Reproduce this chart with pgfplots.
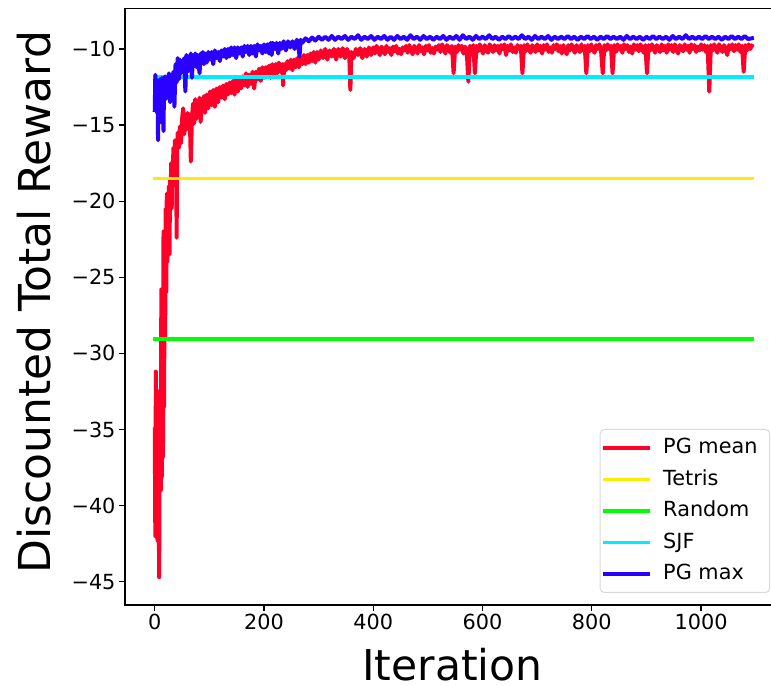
\documentclass[border=0pt]{standalone}
\usepackage{fontspec}
\setmainfont{DejaVu Sans}
\usepackage{pgfplots}
\pgfplotsset{compat=1.18}
\definecolor{cmean}{rgb}{1,0,0.16}
\definecolor{ctetris}{rgb}{1,0.919,0}
\definecolor{crandom}{rgb}{0,1,0}
\definecolor{csjf}{rgb}{0,0.924,1}
\definecolor{cmax}{rgb}{0.163,0,1}
\begin{document}
\begin{tikzpicture}
\begin{axis}[name=ax,
  scale only axis, width=655pt, height=596.7pt,
  xmin=-54.5, xmax=1144.5, ymin=-46.53, ymax=-7.33,
  axis line style={line width=1.2pt, black},
  tick style={line width=1.2pt, black},
  tick align=outside, major tick length=6pt, tick pos=left,
  xtick={0,200,400,600,800,1000},
  xticklabels={0,200,400,600,800,1000},
  ytick={-45,-40,-35,-30,-25,-20,-15,-10},
  yticklabels={−45,−40,−35,−30,−25,−20,−15,−10},
  ticklabel style={font=\fontsize{20.8}{25}\selectfont},
  xlabel={Iteration},
  ylabel={Discounted Total Reward},
  xlabel style={font=\fontsize{42.5}{50}\selectfont, at={(axis description cs:0.5,-0.1265)}, anchor=base},
  ylabel style={font=\fontsize{44}{50}\selectfont, at={(axis description cs:-0.1390,0.507)}, anchor=center},
  legend cell align=left,
  legend image code/.code={\path[draw=none,fill=none] (0pt,0pt) -- (57pt,0pt);\draw[#1, line width=3.4pt, line cap=rect] (1.7pt,0pt) -- (45.3pt,0pt);},
  legend style={at={(1,0)}, anchor=south east, xshift=-10pt, yshift=12pt,
    draw=black!15, line width=1pt, rounded corners=4pt, fill=white,
    inner xsep=3pt, inner ysep=2.75pt,
    font=\fontsize{20.8}{25}\selectfont,
    nodes={inner xsep=3pt, inner ysep=5.5pt, text height=16pt, text depth=4.5pt},
    row sep=0pt, column sep=0pt},
  every axis plot/.append style={line width=3.6pt, line join=round, line cap=rect},
]
\addplot[cmean, line width=4pt] coordinates {
(0,-35.0)(1,-42.0)(2,-31.2)(3,-40.5)(4,-33.0)(5,-42.3)(6,-36.5)(7,-38.0)(8,-44.7)(9,-36.0)
(10,-32.4)(11,-39.0)(12,-25.8)(13,-38.1)(14,-30.0)(15,-36.8)(16,-22.0)(17,-33.5)(18,-24.5)(19,-29.0)
(20,-20.5)(21,-26.0)(22,-19.5)(23,-24.0)(24,-20.5)(25,-21.5)(26,-19.0)(27,-23.5)(28,-18.5)(29,-20.0)
(30,-17.5)(31,-20.5)(32,-17.8)(33,-19.0)(34,-16.5)(35,-18.2)(36,-17.0)(37,-16.0)(38,-17.8)(39,-16.2)
(40,-22.4)(41,-16.8)(42,-15.5)(44,-16.5)(46,-15.1)(48,-16.2)(50,-14.6)(52,-13.9)(54,-15.6)(56,-14.4)
(58,-15.3)(60,-14.2)(62,-15.0)(64,-14.3)(66,-17.4)(68,-14.6)(70,-13.6)(72,-14.9)(74,-13.3)(76,-14.6)
(78,-13.5)(80,-14.3)(82,-13.2)(84,-14.8)(86,-13.4)(88,-14.0)(90,-13.1)(92,-14.2)(95,-13.0)(98,-13.9)
(101,-12.8)(104,-13.7)(107,-12.7)(110,-13.8)(113,-12.6)(116,-13.5)(119,-12.5)(122,-13.2)(125,-12.4)(128,-13.3)
(131,-12.3)(134,-13.0)(137,-12.2)(140,-12.9)(143,-12.1)(146,-13.0)(149,-12.0)(152,-12.8)(155,-11.9)(158,-12.6)
(161,-11.8)(164,-12.4)(167,-11.6)(170,-12.5)(173,-11.7)(176,-12.3)(179,-11.5)(182,-12.6)(185,-11.5)(188,-12.0)
(191,-11.3)(194,-12.1)(197,-11.2)(200,-11.9)(203,-11.2)(206,-11.8)(209,-11.1)(212,-11.9)(215,-11.0)(218,-11.7)
(221,-11.0)(224,-11.6)(227,-10.9)(230,-11.5)(233,-11.0)(235,-12.4)(237,-11.0)(240,-11.4)(243,-10.8)(246,-11.3)
(249,-10.7)(252,-11.4)(255,-10.7)(258,-11.2)(261,-10.6)(264,-11.2)(267,-10.6)(270,-11.0)(273,-10.4)(276,-11.0)
(279,-10.4)(282,-10.9)(285,-10.3)(288,-10.8)(291,-10.2)(294,-10.9)(297,-10.2)(300,-10.7)(304,-10.1)(308,-10.6)
(312,-10.0)(316,-10.7)(320,-10.1)(324,-10.5)(328,-10.0)(332,-10.7)(336,-10.0)(340,-10.5)(344,-9.95)(348,-10.6)
(352,-10.0)(356,-10.4)(358,-12.7)(360,-10.2)(364,-10.6)(368,-10.0)(372,-10.4)(376,-9.95)(380,-10.6)(384,-10.0)
(388,-10.5)(392,-9.9)(396,-10.4)
(400,-9.90)(403,-10.30)(406,-9.80)(409,-10.10)(412,-10.40)(415,-9.85)(418,-10.05)(421,-10.35)(424,-9.80)(427,-10.20)
(430,-9.95)(433,-10.40)(436,-9.85)(439,-10.15)(442,-9.80)(445,-10.30)(448,-10.00)(451,-10.35)(454,-9.90)(457,-10.10)
(460,-9.80)(463,-10.25)(466,-9.75)(469,-10.05)(472,-10.35)(475,-9.80)(478,-10.00)(481,-10.30)(484,-9.75)(487,-10.15)
(490,-9.90)(493,-10.35)(496,-9.80)(499,-10.10)(502,-9.75)(505,-10.25)(508,-9.95)(511,-10.30)(514,-9.85)(517,-10.05)
(520,-9.75)(523,-10.20)(526,-9.70)(529,-10.00)(532,-10.30)(535,-9.75)(538,-9.95)(541,-10.25)(544,-9.80)(547,-11.60)
(550,-9.85)(553,-10.20)(556,-9.75)(559,-10.05)(562,-9.80)(565,-10.30)(568,-9.85)(571,-10.10)(574,-12.15)(577,-9.80)
(580,-10.20)(583,-9.75)(586,-11.60)(589,-9.80)(592,-10.15)(595,-9.70)(598,-10.05)(601,-10.30)(604,-9.75)(607,-10.00)
(610,-10.25)(613,-9.70)(616,-9.95)(619,-10.20)(622,-9.75)(625,-10.10)(628,-9.80)(631,-10.30)(634,-9.75)(637,-10.00)
(640,-9.70)(643,-10.40)(646,-9.80)(649,-10.10)(652,-9.70)(655,-10.20)(658,-9.90)(661,-10.25)(664,-9.75)(667,-10.00)
(670,-9.80)(673,-11.60)(676,-9.75)(679,-10.15)(682,-9.70)(685,-10.00)(688,-10.25)(691,-9.75)(694,-9.95)(697,-10.20)
(700,-9.70)(703,-10.10)(706,-9.80)(709,-10.30)(712,-9.75)(715,-10.05)(718,-9.70)(721,-10.20)(724,-9.90)(727,-10.25)
(730,-9.75)(733,-10.00)(736,-9.70)(739,-10.15)(742,-9.80)(745,-10.30)(748,-9.75)(751,-10.05)(754,-10.35)(757,-9.75)
(760,-10.10)(763,-9.70)(766,-10.00)(769,-10.25)(772,-9.75)(775,-9.95)(778,-10.20)(781,-9.70)(784,-10.10)(787,-9.80)
(790,-11.60)(793,-9.75)(796,-10.15)(799,-9.70)(802,-10.05)(805,-10.25)(808,-9.75)(811,-10.00)(814,-9.70)(817,-10.15)
(820,-11.60)(823,-9.75)(826,-10.10)(829,-9.70)(832,-10.00)(835,-9.80)(838,-11.60)(841,-9.75)(844,-10.20)(847,-9.70)
(850,-10.05)(853,-9.80)(856,-10.25)(859,-9.70)(862,-10.00)(865,-9.75)(868,-10.20)(871,-9.85)(874,-10.30)(877,-9.70)
(880,-10.05)(883,-9.75)(886,-10.15)(889,-9.70)(892,-9.95)(895,-10.25)(898,-9.75)(901,-11.60)(904,-9.75)(907,-10.10)
(910,-9.70)(913,-10.00)(916,-10.25)(919,-9.75)(922,-9.95)(925,-10.20)(928,-9.70)(931,-10.10)(934,-9.80)(937,-10.25)
(940,-9.70)(943,-10.05)(946,-9.75)(949,-10.20)(952,-9.70)(955,-10.00)(958,-10.30)(961,-9.75)(964,-9.95)(967,-10.15)
(970,-9.70)(973,-10.05)(976,-9.80)(979,-10.25)(982,-9.70)(985,-10.00)(988,-9.75)(991,-10.20)(994,-9.85)(997,-10.10)
(1000,-9.70)(1003,-10.05)(1006,-9.75)(1009,-10.20)(1012,-9.80)(1015,-12.80)(1018,-9.75)(1021,-10.10)(1024,-9.70)(1027,-10.00)
(1030,-10.25)(1033,-9.70)(1036,-9.95)(1039,-10.20)(1042,-9.75)(1045,-10.05)(1048,-10.40)(1051,-9.75)(1054,-10.00)(1057,-9.70)
(1060,-10.15)(1063,-9.75)(1066,-10.05)(1069,-9.70)(1072,-10.20)(1075,-9.80)(1078,-11.50)(1081,-9.75)(1084,-10.10)(1087,-9.70)
(1090,-10.00)(1093,-9.80)
};
\addlegendentry{PG mean\hspace*{6pt}}
\addplot[ctetris] coordinates {(0,-18.51)(1093,-18.51)};
\addlegendentry{Tetris}
\addplot[crandom] coordinates {(0,-29.07)(1093,-29.07)};
\addlegendentry{Random}
\addplot[csjf] coordinates {(0,-11.84)(1093,-11.84)};
\addlegendentry{SJF}
\addplot[cmax, line width=4pt] coordinates {
(0,-14.0)(1,-11.7)(2,-13.5)(3,-12.0)(4,-14.2)(5,-12.2)(6,-16.0)(7,-12.5)(8,-13.8)(9,-12.0)
(10,-14.0)(11,-12.3)(12,-13.0)(13,-11.9)(14,-14.9)(15,-12.4)(16,-15.4)(17,-12.2)(18,-13.0)(19,-11.8)
(20,-13.3)(22,-11.9)(24,-12.8)(26,-11.6)(28,-13.5)(30,-11.7)(32,-12.6)(34,-11.5)(36,-13.8)(38,-11.0)
(40,-12.2)(42,-10.6)(44,-12.0)(46,-10.7)(48,-11.6)(50,-10.8)(52,-11.3)(54,-10.6)(56,-12.8)(58,-10.4)
(60,-11.5)(62,-10.5)(64,-11.2)(66,-10.3)(68,-11.9)(70,-10.5)(72,-11.0)(74,-10.3)(76,-11.2)(78,-10.4)
(80,-10.9)(82,-11.6)(84,-10.3)(86,-10.8)(88,-10.2)(90,-11.0)(92,-10.3)(95,-10.9)(98,-10.2)(101,-10.7)
(104,-10.2)(107,-11.0)(110,-10.1)(113,-10.6)(116,-10.2)(119,-10.8)(122,-10.1)(125,-10.5)(128,-10.0)(131,-10.6)
(134,-10.0)(137,-10.5)(140,-9.9)(143,-10.4)(146,-9.9)(149,-10.6)(152,-9.9)(155,-10.3)(158,-9.9)(161,-10.5)
(164,-9.8)(167,-10.2)(170,-9.8)(173,-10.4)(176,-9.8)(179,-10.3)(182,-9.8)(185,-10.5)(188,-9.7)(191,-10.1)
(194,-9.8)(197,-10.3)(200,-9.7)(203,-10.2)(206,-9.7)(209,-10.3)(212,-9.6)(214,-10.4)(216,-9.6)(220,-10.0)
(223,-9.6)(226,-10.3)(229,-9.6)(232,-10.0)(236,-9.5)(240,-10.1)(244,-9.5)(248,-9.9)(252,-9.5)(256,-10.0)
(260,-9.4)(263,-9.8)(265,-10.5)(267,-9.4)(270,-9.6)(276,-9.3)(282,-9.5)(288,-9.25)(294,-9.45)(300,-9.2)
(306,-9.4)(312,-9.2)(318,-9.4)(324,-9.15)(330,-9.4)(336,-9.2)(342,-9.35)(348,-9.15)(354,-9.4)(360,-9.2)
(366,-9.35)(372,-9.1)(378,-9.4)(384,-9.2)(390,-9.35)(396,-9.15)(402,-9.4)(408,-9.2)(414,-9.35)(420,-9.15)
(426,-9.4)(432,-9.2)(438,-9.4)(444,-9.15)(450,-9.35)(456,-9.2)(462,-9.4)(468,-9.1)(474,-9.35)(480,-9.2)
(486,-9.4)(492,-9.15)(498,-9.35)(504,-9.2)(510,-9.4)(516,-9.2)(522,-9.35)(528,-9.15)(534,-9.4)(540,-9.2)
(546,-9.35)(552,-9.15)(558,-9.4)(564,-9.1)(570,-9.35)(576,-9.2)(582,-9.4)(588,-9.15)(594,-9.35)(600,-9.2)
(606,-9.35)(612,-9.1)(618,-9.35)(624,-9.2)(630,-9.4)(636,-9.2)(642,-9.35)(648,-9.15)(654,-9.35)(660,-9.2)
(666,-9.35)(672,-9.1)(678,-9.35)(684,-9.2)(690,-9.4)(696,-9.15)(702,-9.35)(708,-9.2)(714,-9.35)(720,-9.15)
(726,-9.4)(732,-9.2)(738,-9.35)(744,-9.2)(750,-9.35)(756,-9.15)(762,-9.35)(768,-9.2)(774,-9.4)(780,-9.2)
(786,-9.35)(792,-9.15)(798,-9.35)(804,-9.2)(810,-9.4)(816,-9.2)(822,-9.35)(828,-9.15)(834,-9.35)(840,-9.2)
(846,-9.35)(852,-9.2)(858,-9.4)(864,-9.15)(870,-9.35)(876,-9.2)(882,-9.35)(888,-9.2)(894,-9.4)(900,-9.2)
(906,-9.35)(912,-9.15)(918,-9.35)(924,-9.2)(930,-9.35)(936,-9.2)(942,-9.4)(948,-9.15)(954,-9.35)(960,-9.2)
(966,-9.35)(972,-9.1)(978,-9.35)(984,-9.2)(990,-9.35)(996,-9.2)(1002,-9.35)(1008,-9.15)(1014,-9.35)(1020,-9.2)
(1026,-9.35)(1032,-9.2)(1038,-9.4)(1044,-9.2)(1050,-9.35)(1056,-9.15)(1062,-9.35)(1068,-9.2)(1074,-9.35)(1080,-9.15)
(1086,-9.35)(1093,-9.3)
};
\addlegendentry{PG max}
\end{axis}
\path (ax.south west) ++(-125pt,-81pt) coordinate (bl);
\path (ax.north west) ++(646pt,8.3pt) coordinate (tr);
\pgfresetboundingbox
\path[use as bounding box] (bl) rectangle (tr);
\end{tikzpicture}
\end{document}
